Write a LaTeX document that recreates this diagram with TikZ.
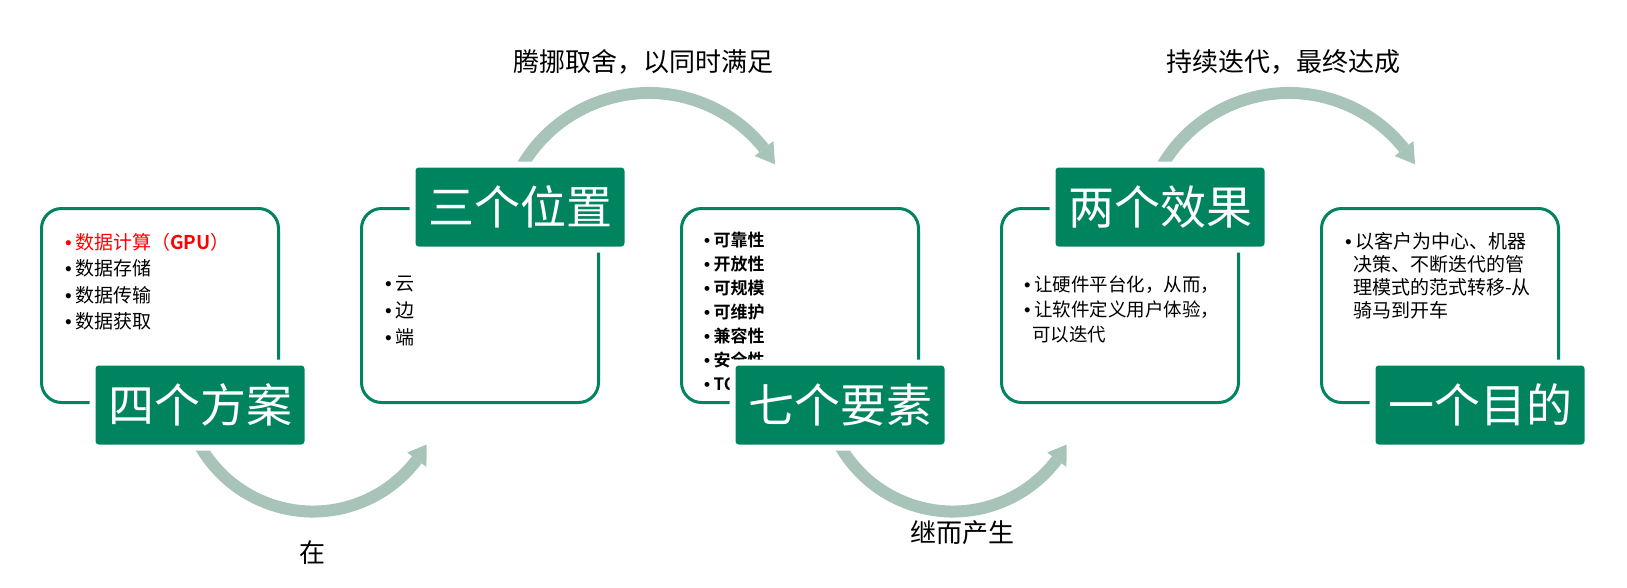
\documentclass[tikz,border=0pt]{standalone}
\usepackage{fontspec}
\setmainfont{Noto Sans CJK SC}[BoldFont={Noto Sans CJK SC Bold}]
\newfontfamily\dotfont{Liberation Sans}
\usetikzlibrary{shapes, arrows, positioning, calc}

\definecolor{deepgreen}{RGB}{0,132,96}
\definecolor{sage}{RGB}{168,196,184}
\newcommand{\bul}{{\dotfont •}\hspace{3.5pt}}
\newcommand{\cont}{\hspace{8pt}}

\tikzset{
  panel/.style={draw=deepgreen, line width=3pt, rounded corners=20pt, fill=white,
    minimum width=237pt, minimum height=194pt},
  title/.style={fill=deepgreen, draw=white, line width=6pt, rounded corners=6pt,
    text=white, minimum width=215pt, minimum height=85pt, inner sep=0pt,
    font=\fontsize{46}{50}\selectfont},
  list/.style={anchor=north west, inner sep=0pt, align=left},
  flow/.style={draw=sage, line width=12pt},
  note/.style={font=\fontsize{26}{30}\selectfont},
}

\begin{document}
\begin{tikzpicture}[x=1pt, y=1pt, node distance=320pt, auto]
        \useasboundingbox (0,0) rectangle (1627,-587);

        % the five frames
        \node (plan) [panel] at (160,-305.5) {};
        \node (place) [panel, right of=plan] {};
        \node (factor) [panel, right of=place] {};
        \node (effect) [panel, right of=factor] {};
        \node (aim) [panel, right of=effect] {};

        % curved arrows between frames
        \coordinate (arcA) at (313,-381.5);
        \coordinate (arcB) at (649,-240);
        \coordinate (arcC) at (953,-381.5);
        \coordinate (arcD) at (1289,-240);

        \draw[flow] ($(arcA)+(200:130)$) arc[start angle=200, end angle=323, radius=130pt];
        \fill[sage] ($(arcA)+(323:118)$) -- ($(arcA)+(323:142)$) -- ($(arcA)+(331:130)$) -- cycle;
        \draw[flow] ($(arcB)+(160:147)$) arc[start angle=160, end angle=38.5, radius=147pt];
        \fill[sage] ($(arcB)+(38.5:135)$) -- ($(arcB)+(38.5:159)$) -- ($(arcB)+(31:147)$) -- cycle;
        \draw[flow] ($(arcC)+(200:130)$) arc[start angle=200, end angle=323, radius=130pt];
        \fill[sage] ($(arcC)+(323:118)$) -- ($(arcC)+(323:142)$) -- ($(arcC)+(331:130)$) -- cycle;
        \draw[flow] ($(arcD)+(160:147)$) arc[start angle=160, end angle=38.5, radius=147pt];
        \fill[sage] ($(arcD)+(38.5:135)$) -- ($(arcD)+(38.5:159)$) -- ($(arcD)+(31:147)$) -- cycle;

        \node (inN) [note] at (312,-553) {在};
        \node (swapN) [note] at (643,-62) {腾挪取舍，以同时满足};
        \node (thenN) [note] at (962,-533) {继而产生};
        \node (keepN) [note] at (1283,-62) {持续迭代，最终达成};

        % frame contents
        \node (planL) [list, font=\fontsize{19}{26.5}\selectfont] at ([xshift=25pt, yshift=-26pt]plan.north west)
            {\textcolor{red}{\bul 数据计算（\textbf{GPU}）}\\ \bul 数据存储\\ \bul 数据传输\\ \bul 数据获取};
        \node (placeL) [list, font=\fontsize{19}{27}\selectfont] at ([xshift=25pt, yshift=-69pt]place.north west)
            {\bul 云\\ \bul 边\\ \bul 端};
        \node (factorL) [list, font=\bfseries\fontsize{17}{24}\selectfont] at ([xshift=24pt, yshift=-25pt]factor.north west)
            {\bul 可靠性\\ \bul 开放性\\ \bul 可规模\\ \bul 可维护\\ \bul 兼容性\\ \bul 安全性\\ \bul TC};
        \node (effectL) [list, font=\fontsize{18.5}{25}\selectfont] at ([xshift=24pt, yshift=-69pt]effect.north west)
            {\bul 让硬件平台化，从而，\\ \bul 让软件定义用户体验，\\ \cont 可以迭代};
        \node (aimL) [list, font=\fontsize{19}{23}\selectfont] at ([xshift=25pt, yshift=-25pt]aim.north west)
            {\bul 以客户为中心、机器\\ \cont 决策、不断迭代的管\\ \cont 理模式的范式转移-从\\ \cont 骑马到开车};

        % green titles
        \node (planT) [title] at ([xshift=40pt, yshift=-1pt]plan.south) {四个方案};
        \node (placeT) [title] at ([xshift=40pt]place.north) {三个位置};
        \node (factorT) [title] at ([xshift=40pt, yshift=-1pt]factor.south) {七个要素};
        \node (effectT) [title] at ([xshift=40pt]effect.north) {两个效果};
        \node (aimT) [title] at ([xshift=40pt, yshift=-1pt]aim.south) {一个目的};
    \end{tikzpicture}
\end{document}
